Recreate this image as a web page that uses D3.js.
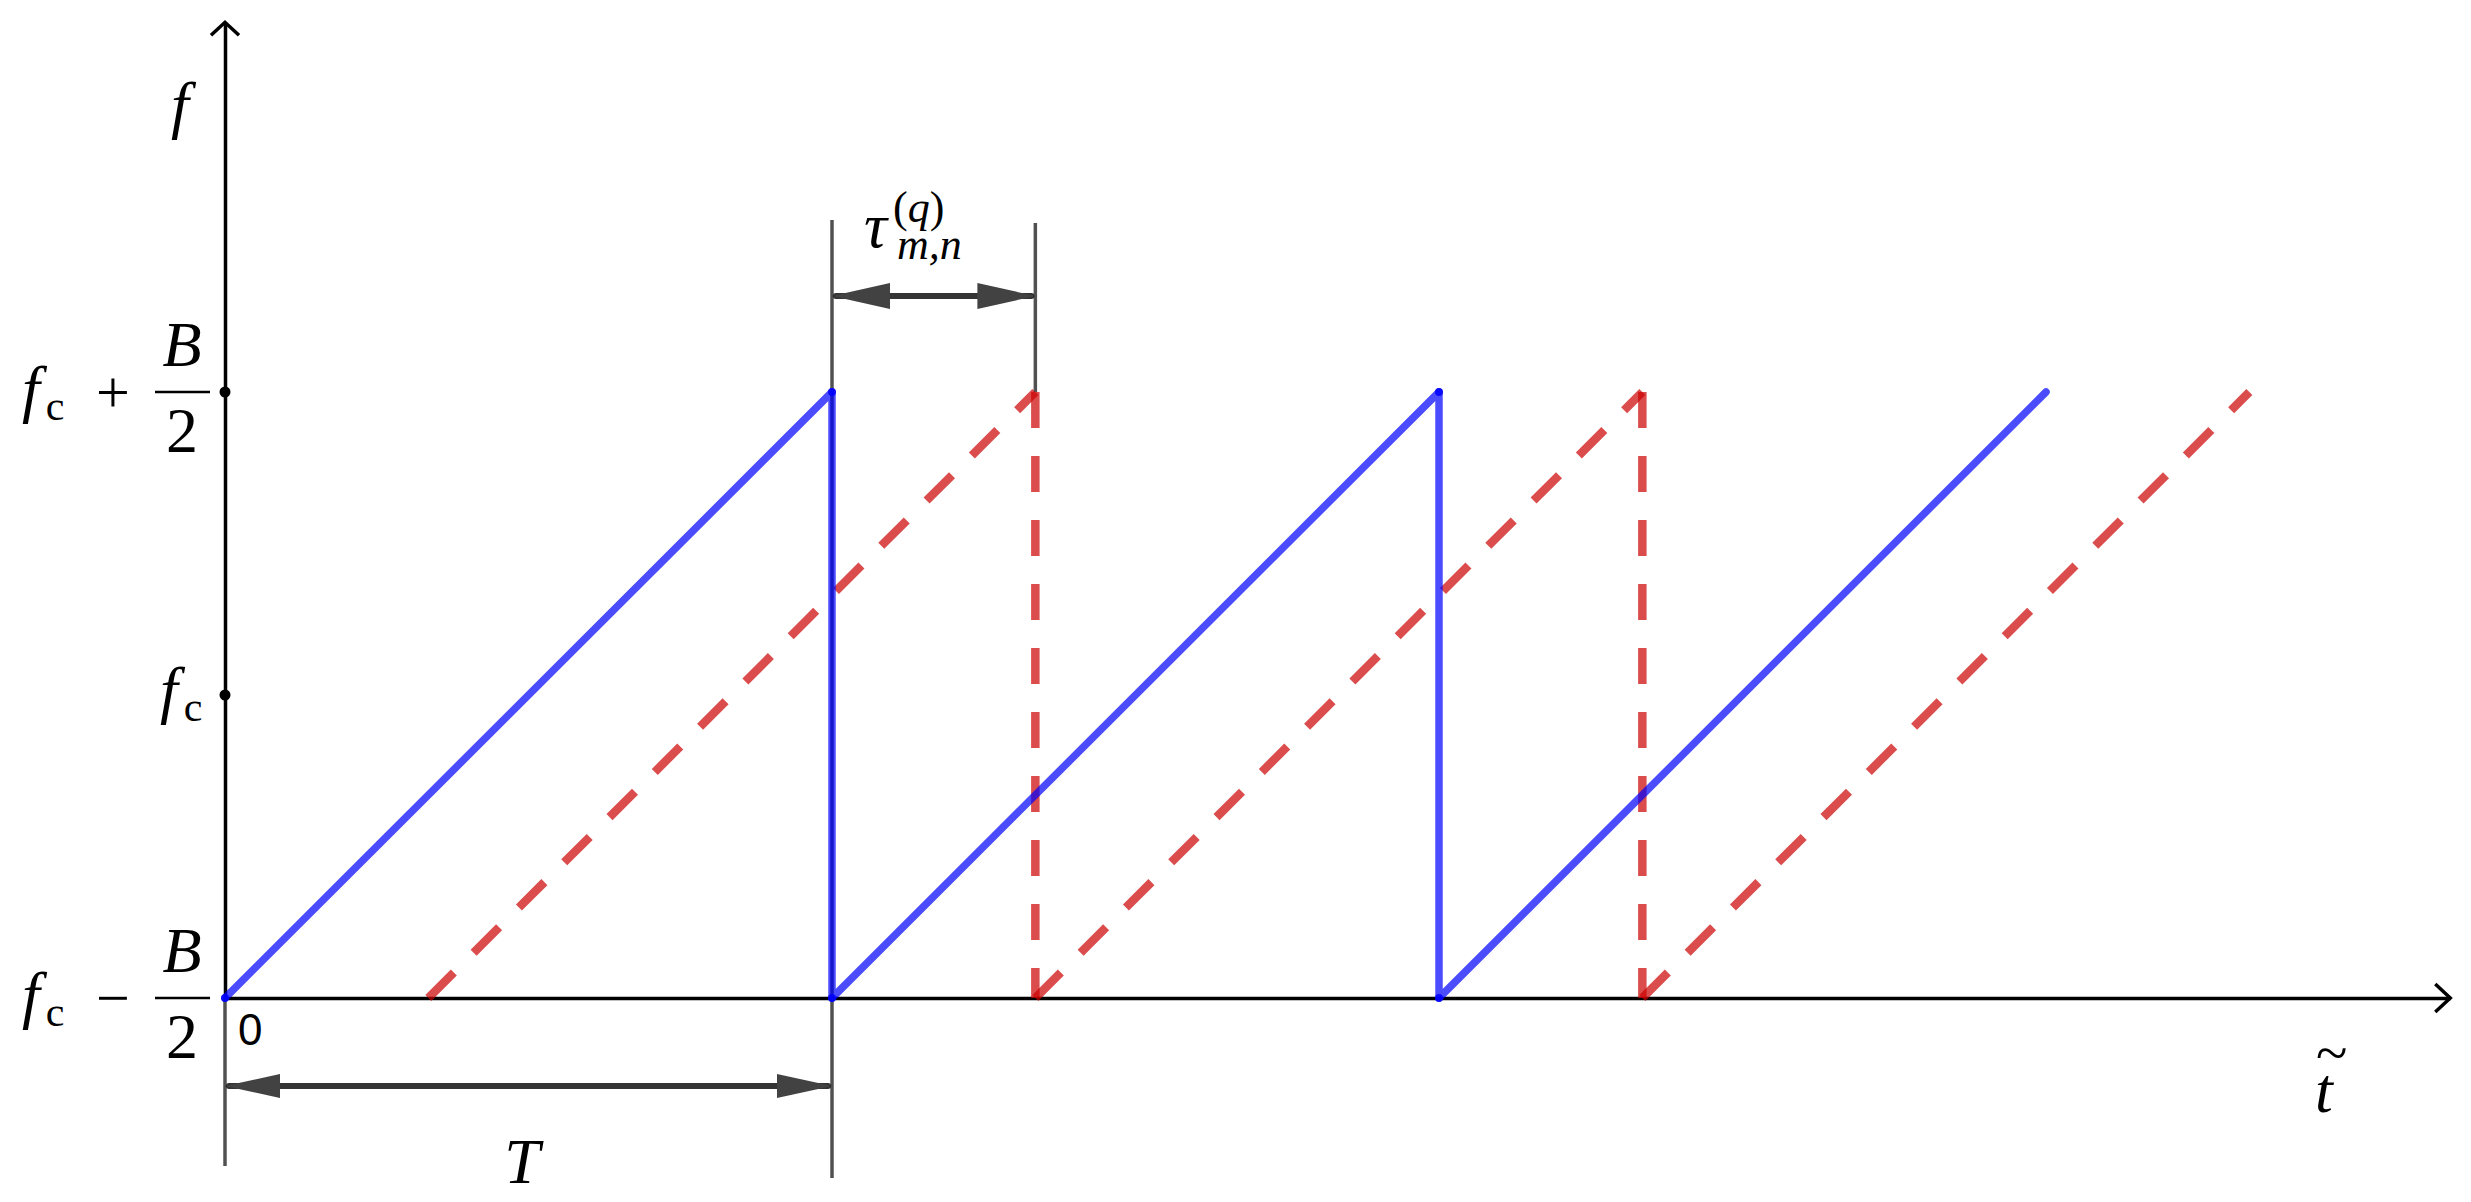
<!DOCTYPE html>
<html><head><meta charset="utf-8">
<script src="https://cdn.jsdelivr.net/npm/d3@7"></script>
<style>body{margin:0;background:#fff} svg{display:block;background:#fff}</style>
</head><body><svg id="c" width="2471" height="1202"></svg>
<script>
// ---- data (time in units of T, frequency relative to f_c in units of B) ----
const blueT = [0, 1, 1, 2, 2, 3];
const blueF = [-0.5, 0.5, -0.5, 0.5, -0.5, 0.5];
const redT  = [0.335, 1.335, 1.335, 2.335, 2.335, 3.335];
const redF  = [-0.5, 0.5, -0.5, 0.5, -0.5, 0.5];
const yTicks = [-0.5, 0, 0.5];
const markerT = [0, 1, 1.335];
const xMax = 3.666, yMax = 1.11;

const svg = d3.select("#c");
const x = d3.scaleLinear().domain([0, 1]).range([225, 832]);
const y = d3.scaleLinear().domain([-0.5, 0.5]).range([998, 392]);
const MATH = "'Liberation Serif', 'DejaVu Serif', serif";

// --- marker lines (thin gray) ---
const markerSpans = [[y(-0.5), 1166], [220, 1178], [223, y(0.5)]];
markerT.forEach((t, i) => {
  svg.append("line").attr("x1", x(t)).attr("x2", x(t))
    .attr("y1", markerSpans[i][0]).attr("y2", markerSpans[i][1])
    .attr("stroke", "#333").attr("stroke-opacity", 0.85).attr("stroke-width", 3.5);
});

// --- axes ---
const xAxisScale = d3.scaleLinear().domain([0, xMax]).range([x(0), x(xMax)]);
const yAxisScale = d3.scaleLinear().domain([-0.5, yMax]).range([y(-0.5), y(yMax)]);
svg.append("g").attr("transform", `translate(0,${y(-0.5)})`)
  .call(d3.axisBottom(xAxisScale).tickValues([]).tickSizeOuter(0))
  .call(g => g.select(".domain").attr("stroke", "#000").attr("stroke-width", 3.5));
svg.append("g").attr("transform", `translate(${x(0)},0)`)
  .call(d3.axisLeft(yAxisScale).tickValues([]).tickSizeOuter(0))
  .call(g => g.select(".domain").attr("stroke", "#000").attr("stroke-width", 3.5));
const xe = x(xMax), ye = y(yMax);
svg.append("path").attr("d", `M${xe-15},${y(-0.5)-14} L${xe},${y(-0.5)} L${xe-15},${y(-0.5)+14}`)
  .attr("fill", "none").attr("stroke", "#000").attr("stroke-width", 3.5);
svg.append("path").attr("d", `M${x(0)-14},${ye+13} L${x(0)},${ye} L${x(0)+14},${ye+13}`)
  .attr("fill", "none").attr("stroke", "#000").attr("stroke-width", 3.5);

// --- red dashed (delayed) ---
for (let i = 0; i < redT.length - 1; i++) {
  svg.append("line")
    .attr("x1", x(redT[i])).attr("y1", y(redF[i]))
    .attr("x2", x(redT[i+1])).attr("y2", y(redF[i+1]))
    .attr("stroke", "#cc0000").attr("stroke-opacity", 0.7).attr("stroke-width", 8.5)
    .attr("stroke-dasharray", "36,28");
}

// --- blue solid (transmitted) ---
const bluePts = blueT.map((t, i) => [x(t), y(blueF[i])]);
svg.append("path").attr("d", d3.line()(bluePts))
  .attr("fill", "none").attr("stroke", "#0000ff").attr("stroke-opacity", 0.7)
  .attr("stroke-width", 7.5).attr("stroke-linejoin", "round").attr("stroke-linecap", "round");
svg.selectAll("circle.bv").data(bluePts.slice(0, 5)).join("circle").attr("class", "bv")
  .attr("cx", d => d[0]).attr("cy", d => d[1]).attr("r", 4).attr("fill", "#0000ff").attr("fill-opacity", 0.85);

// --- y tick dots ---
svg.selectAll("circle.yt").data(yTicks.slice(1)).join("circle").attr("class", "yt")
  .attr("cx", x(0)).attr("cy", d => y(d)).attr("r", 5.5).attr("fill", "#000");

// --- double arrows ---
function dblArrow(x1, x2, yy, head, half) {
  const g = svg.append("g").attr("opacity", 0.85);
  g.append("line").attr("x1", x1 + 4).attr("x2", x2 - 4).attr("y1", yy).attr("y2", yy)
    .attr("stroke", "#111").attr("stroke-width", 6).attr("stroke-linecap", "round");
  g.append("path").attr("d", `M${x1},${yy} L${x1+head},${yy-half} L${x1+head},${yy+half} Z`).attr("fill", "#222");
  g.append("path").attr("d", `M${x2},${yy} L${x2-head},${yy-half} L${x2-head},${yy+half} Z`).attr("fill", "#222");
}
dblArrow(x(0), x(1), 1086, 55, 12);
dblArrow(x(1), x(1.335), 296, 58, 13);

// --- text helpers ---
function txt(s, xx, yy, size, opts = {}) {
  return svg.append("text").attr("x", xx).attr("y", yy).text(s)
    .attr("font-family", opts.sans ? "'Liberation Sans', Arial, sans-serif" : MATH)
    .attr("font-size", size).attr("font-style", opts.italic ? "italic" : "normal")
    .attr("text-anchor", opts.anchor || "start").attr("fill", "#000");
}
function fc(xx, yy) {
  const t = svg.append("text").attr("x", xx).attr("y", yy)
    .attr("font-family", MATH).attr("font-size", 64).attr("fill", "#000");
  t.append("tspan").attr("font-style", "italic").text("f");
  t.append("tspan").attr("dx", 6).attr("dy", 10).attr("font-size", 42).text("c");
  return t;
}
function fcLabel(y0, sign) {
  fc(22, y0 + 18);
  txt(sign, 113, y0 + 20, 60, {anchor: "middle"});
  svg.append("line").attr("x1", 155).attr("x2", 210).attr("y1", y0).attr("y2", y0)
    .attr("stroke", "#000").attr("stroke-width", 2.5);
  txt("B", 182, y0 - 26, 64, {italic: true, anchor: "middle"});
  txt("2", 182, y0 + 60, 64, {anchor: "middle"});
}
fcLabel(y(0.5), "+");
fcLabel(y(-0.5), "\u2212");
fc(160, y(0) + 16);
txt("f", 180, 126, 64, {italic: true, anchor: "middle"});
txt("0", 238, 1045, 44, {sans: true});
txt("T", 522, 1183, 64, {italic: true, anchor: "middle"});

// t with wide tilde
const tt = svg.append("text").attr("x", 2315).attr("y", 1112)
  .attr("font-family", MATH).attr("font-size", 64).attr("fill", "#000");
tt.append("tspan").attr("font-style", "italic").text("t");
tt.append("tspan").attr("x", 2316).attr("dy", -40).attr("font-size", 58).text("~");

// tau label
const tau = svg.append("text").attr("x", 864).attr("y", 247)
  .attr("font-family", MATH).attr("font-size", 64).attr("fill", "#000");
tau.append("tspan").attr("font-style", "italic").text("\u03C4");
tau.append("tspan").attr("x", 893).attr("dy", -25).attr("font-size", 44).text("(");
tau.append("tspan").attr("font-size", 44).attr("font-style", "italic").text("q");
tau.append("tspan").attr("font-size", 44).text(")");
tau.append("tspan").attr("x", 897).attr("dy", 37).attr("font-size", 44).attr("font-style", "italic").text("m,n");
</script></body></html>
